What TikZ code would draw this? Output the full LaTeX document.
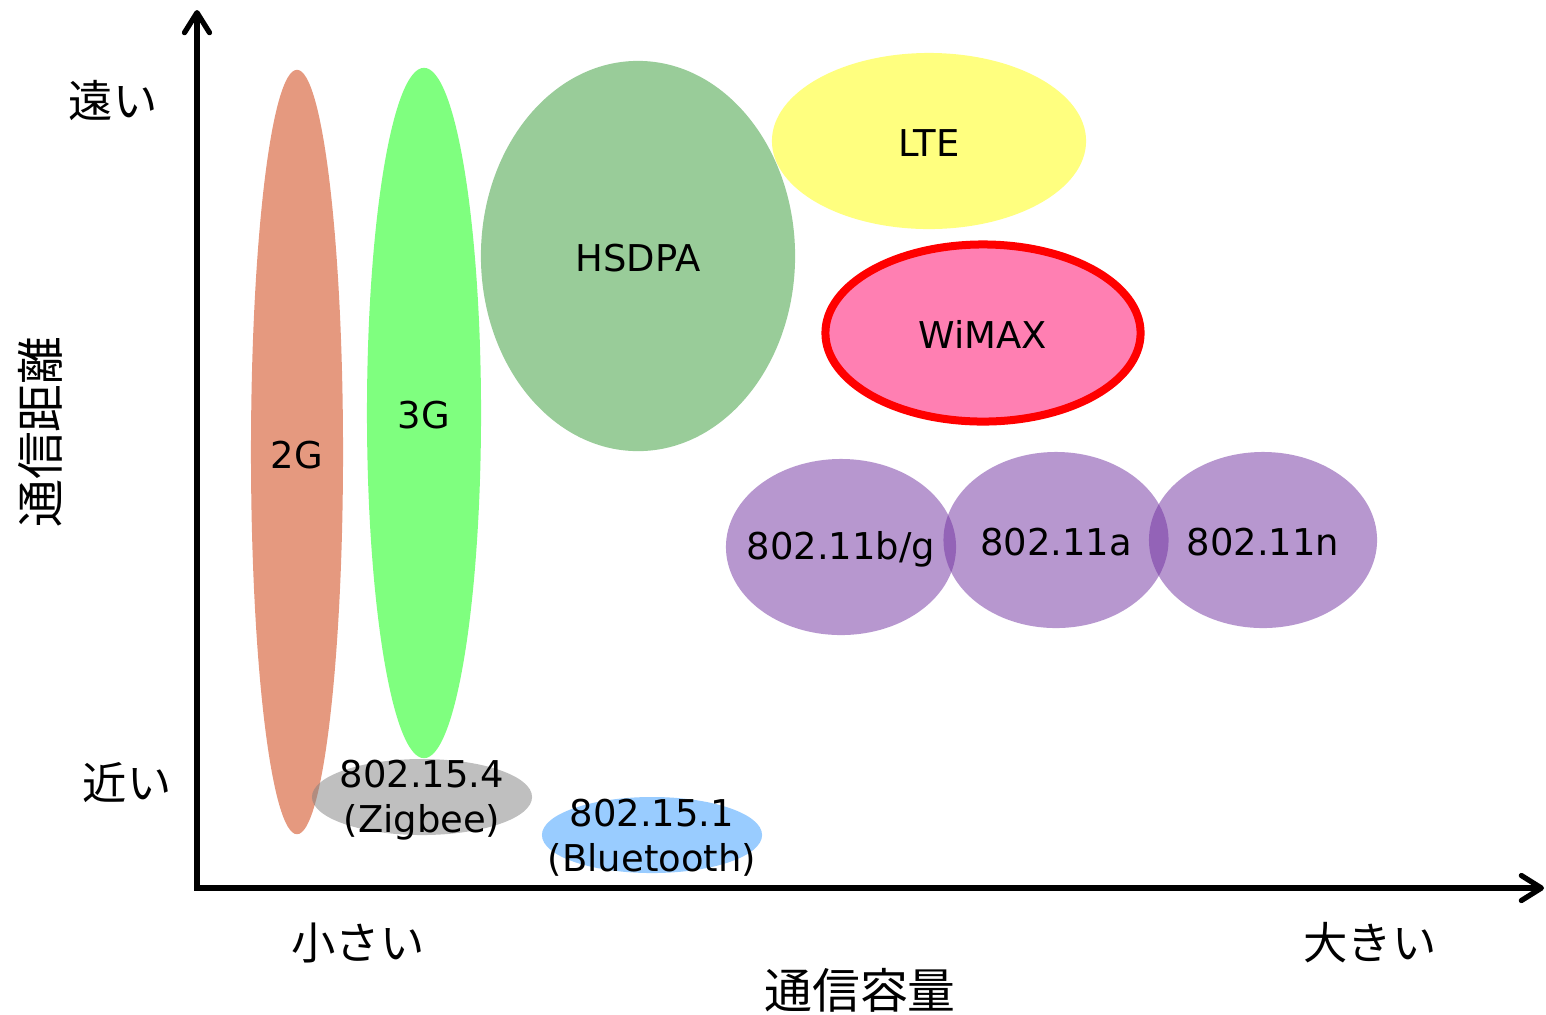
\documentclass[tikz,border=0pt]{standalone}
\usepackage{fontspec}
\setmainfont{DejaVu Sans}
\newfontfamily\jpfont{Noto Sans CJK JP}
\usetikzlibrary{arrows.meta,shapes.geometric}
\definecolor{GenTwo}{HTML}{CC3300}
\definecolor{GenThree}{HTML}{00FF00}
\definecolor{HsdpaGreen}{HTML}{339933}
\definecolor{LteYellow}{HTML}{FFFF00}
\definecolor{WimaxPink}{HTML}{FF0066}
\definecolor{WlanPurple}{HTML}{7030A0}
\definecolor{ZigGray}{HTML}{808080}
\definecolor{BtBlue}{HTML}{3399FF}

\begin{document}
\begin{tikzpicture}[x=0.01cm,y=-0.01cm,
	blob/.style={ellipse, inner sep=0pt, outer sep=0pt, draw=none, fill opacity=0.5},
	tag/.style={font=\fontsize{10.5}{12.8}\selectfont, align=center, inner sep=0pt},
	tick/.style={font=\jpfont\fontsize{12.6}{15}\selectfont, inner sep=0pt},
	title/.style={font=\jpfont\fontsize{13.6}{16}\selectfont, inner sep=0pt}]
	\useasboundingbox (0,0) rectangle (1546,1014);
	
	\node[blob, fill=GenTwo, minimum width=0.92cm, minimum height=7.64cm] (g2) at (297,452) {};
	\node[blob, fill=GenThree, minimum width=1.14cm, minimum height=6.9cm] (g3) at (424,413) {};
	\node[blob, fill=HsdpaGreen, minimum width=3.14cm, minimum height=3.9cm] (hsdpa) at (638,256) {};
	\node[blob, fill=LteYellow, minimum width=3.14cm, minimum height=1.76cm] (lte) at (929,141) {};
	\node[blob, fill=WimaxPink, draw=red, line width=0.08cm, minimum width=3.15cm, minimum height=1.77cm] (wimax) at (983,333) {};
	\node[blob, fill=WlanPurple, minimum width=2.30cm, minimum height=1.76cm] (wbg) at (841,547) {};
	\node[blob, fill=WlanPurple, minimum width=2.25cm, minimum height=1.76cm] (wa) at (1056,540) {};
	\node[blob, fill=WlanPurple, minimum width=2.28cm, minimum height=1.76cm] (wn) at (1263,540) {};
	\node[blob, fill=ZigGray, minimum width=2.2cm, minimum height=0.76cm] (zig) at (422,797) {};
	\node[blob, fill=BtBlue, minimum width=2.2cm, minimum height=0.76cm] (bt) at (652,835) {};
	
	\node[tag] (t2g) at (297,455) {2G};
	\node[tag] (t3g) at (424,415) {3G};
	\node[tag] (thsdpa) at (638,258) {HSDPA};
	\node[tag] (tlte) at (929,143) {LTE};
	\node[tag] (twimax) at (983,334) {WiMAX};
	\node[tag] (twbg) at (841,549) {802.11b/g};
	\node[tag] (twa) at (1056,542) {802.11a};
	\node[tag] (twn) at (1263,542) {802.11n};
	\node[tag] (tzig) at (422,800) {802.15.4\\(Zigbee)};
	\node[tag] (tbt) at (652,838) {802.15.1\\(Bluetooth)};
	
	\coordinate (o) at (197,888);
	\coordinate (ytop) at (197,10);
	\coordinate (xend) at (1544,888);
	\draw[line width=1.5pt, {Straight Barb[length=2mm,width=2.5mm,round]}-{Straight Barb[length=2mm,width=2.5mm,round]}] (ytop) -- (o) -- (xend);
	
	\node[tick] (far) at (113,100) {遠い};
	\node[tick] (near) at (127,783) {近い};
	\node[tick] (small) at (358,943) {小さい};
	\node[tick] (large) at (1370,943) {大きい};
	\node[title] (xtitle) at (860,990) {通信容量};
	\node[title, rotate=90] (ytitle) at (40,432) {通信距離};
\end{tikzpicture}
\end{document}
